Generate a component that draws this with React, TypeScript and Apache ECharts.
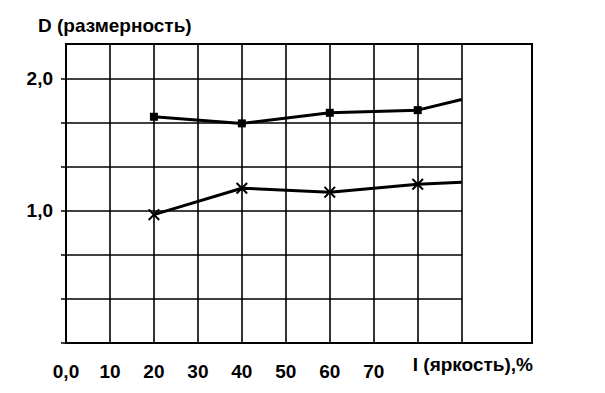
import React, { useEffect, useRef } from "react";
import * as echarts from "echarts";

const xValues = [20, 40, 60, 80, 90];
const seriesSquares = [1.71, 1.66, 1.74, 1.76, 1.84];
const seriesCrosses = [0.97, 1.17, 1.14, 1.2, 1.215];
const xTickLabels: Record<number, string> = { 0: "0,0", 10: "10", 20: "20", 30: "30", 40: "40", 50: "50", 60: "60", 70: "70" };
const yTickLabels = [
  { v: 1, t: "1,0" },
  { v: 2, t: "2,0" },
];
const titleText = "D (размерность)";
const xNameText = "I (яркость),%";

const FONT = "'Liberation Sans', Arial, sans-serif";
const CROSS = "path://M0,1.2 L1.2,0 L5,3.8 L8.8,0 L10,1.2 L6.2,5 L10,8.8 L8.8,10 L5,6.2 L1.2,10 L0,8.8 L3.8,5 Z";

export default function App() {
  const ref = useRef<HTMLDivElement>(null);
  useEffect(() => {
    if (!ref.current) return;
    const chart = echarts.init(ref.current, undefined, { renderer: "svg" });
    const mk = (vals: number[]) =>
      xValues.map((x, i) => (i === xValues.length - 1 ? { value: [x, vals[i]], symbol: "none" } : { value: [x, vals[i]] }));
    const lineStyle = { color: "#000", width: 1.6 };
    chart.setOption({
      animation: false,
      backgroundColor: "#fff",
      textStyle: { fontFamily: FONT },
      grid: [
        { left: 66, right: 73, top: 44, bottom: 50, show: true, borderColor: "#000", borderWidth: 2, backgroundColor: "transparent" },
        { left: 66, right: 143, top: 44, bottom: 50 },
      ],
      xAxis: [
        {
          type: "value",
          gridIndex: 0,
          min: 0,
          max: 106,
          interval: 10,
          axisLine: { show: true, lineStyle: { color: "#000", width: 2 } },
          axisTick: { show: false },
          splitLine: { show: false },
          axisLabel: {
            show: true,
            margin: 19,
            showMaxLabel: false,
            color: "#000",
            fontWeight: "bold",
            fontSize: 19,
            fontFamily: FONT,
            formatter: (v: number) => xTickLabels[Math.round(v)] ?? "",
          },
        },
        {
          type: "value",
          gridIndex: 1,
          min: 0,
          max: 90,
          interval: 10,
          axisLine: { show: false },
          axisTick: { show: false },
          axisLabel: { show: false },
          splitLine: { show: true, lineStyle },
        },
      ],
      yAxis: [
        {
          type: "value",
          gridIndex: 0,
          min: 0,
          max: 2.26,
          interval: 1 / 3,
          axisLine: { show: true, lineStyle: { color: "#000", width: 2 } },
          axisTick: { show: true, length: 5, lineStyle: { color: "#000", width: 1.5 } },
          splitLine: { show: false },
          axisLabel: {
            margin: 13,
            color: "#000",
            fontWeight: "bold",
            fontSize: 19,
            fontFamily: FONT,
            showMaxLabel: false,
            formatter: (v: number) => {
              const f = yTickLabels.find((l) => Math.abs(l.v - v) < 1e-6);
              return f ? f.t : "";
            },
          },
        },
        {
          type: "value",
          gridIndex: 1,
          min: 0,
          max: 2.26,
          interval: 1 / 3,
          axisLine: { show: false },
          axisTick: { show: false },
          axisLabel: { show: false },
          splitLine: { show: true, lineStyle },
        },
      ],
      graphic: [
        { type: "text", left: 38, top: 16, style: { text: titleText, font: `bold 19px ${FONT}`, fill: "#000" } },
        { type: "text", right: 72, top: 355, style: { text: xNameText, font: `bold 19px ${FONT}`, fill: "#000" } },
      ],
      series: [
        {
          type: "line",
          xAxisIndex: 0,
          yAxisIndex: 0,
          data: mk(seriesSquares),
          symbol: "rect",
          symbolSize: 8,
          lineStyle: { color: "#000", width: 3 },
          itemStyle: { color: "#000" },
        },
        {
          type: "line",
          xAxisIndex: 0,
          yAxisIndex: 0,
          data: mk(seriesCrosses),
          symbol: CROSS,
          symbolSize: 12,
          lineStyle: { color: "#000", width: 3 },
          itemStyle: { color: "#000" },
        },
      ],
    });
    return () => chart.dispose();
  }, []);
  return <div ref={ref} style={{ width: 605, height: 393, position: "absolute", left: 0, top: 0 }} />;
}
